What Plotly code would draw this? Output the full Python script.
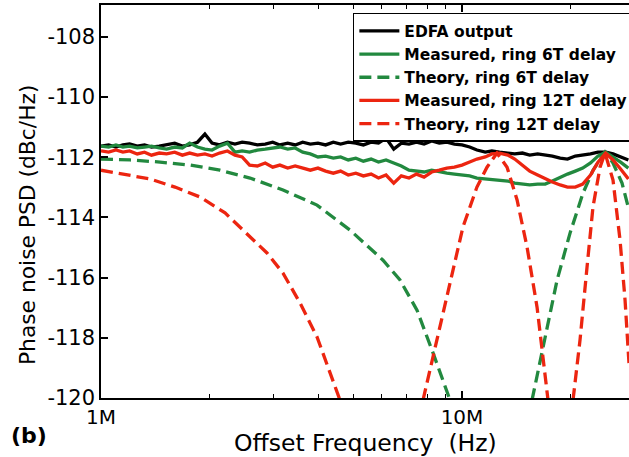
import plotly.graph_objects as go

# ---------------- data (frequencies in MHz, PSD in dBc/Hz) ----------------
freq_meas_mhz = [1.00, 1.05, 1.10, 1.15, 1.20, 1.26, 1.32, 1.38, 1.45, 1.52, 1.60, 1.68, 1.76, 1.85,
                 1.94, 2.03, 2.13, 2.24, 2.35, 2.46, 2.58, 2.71, 2.85, 2.99, 3.13, 3.29, 3.45, 3.62,
                 3.80, 3.99, 4.19, 4.40, 4.61, 4.84, 5.08, 5.33, 5.60, 5.87, 6.16, 6.47, 6.79, 7.13,
                 7.48, 7.85, 8.24, 8.65, 9.08, 9.53, 10.0, 10.5, 11.0, 11.6, 12.1, 12.7, 13.4, 14.0,
                 14.7, 15.4, 16.2, 17.0, 17.8, 18.7, 19.6, 20.6, 21.6, 22.7, 23.8, 25.0, 26.2, 27.5, 28.9]

edfa_output = [-111.63, -111.59, -111.66, -111.59, -111.56, -111.63, -111.59, -111.66, -111.63, -111.59,
               -111.53, -111.63, -111.59, -111.50, -111.23, -111.53, -111.59, -111.50, -111.56, -111.50,
               -111.53, -111.59, -111.56, -111.50, -111.59, -111.53, -111.59, -111.50, -111.56, -111.53,
               -111.59, -111.50, -111.56, -111.50, -111.53, -111.59, -111.50, -111.53, -111.36, -111.73,
               -111.53, -111.56, -111.50, -111.56, -111.46, -111.53, -111.50, -111.56, -111.59, -111.66,
               -111.76, -111.83, -111.79, -111.83, -111.86, -111.89, -111.86, -111.93, -111.89, -111.93,
               -111.96, -112.03, -112.06, -111.96, -111.93, -111.89, -111.83, -111.83, -111.89, -111.99, -112.09]

measured_6t = [-111.63, -111.66, -111.59, -111.66, -111.63, -111.69, -111.66, -111.63, -111.69, -111.73,
               -111.66, -111.69, -111.53, -111.66, -111.73, -111.76, -111.63, -111.53, -111.83, -111.79,
               -111.83, -111.76, -111.73, -111.69, -111.66, -111.73, -111.69, -111.83, -111.89, -111.99,
               -111.96, -112.03, -111.99, -112.09, -112.03, -112.13, -112.06, -112.16, -112.09, -112.19,
               -112.29, -112.43, -112.46, -112.49, -112.43, -112.49, -112.53, -112.56, -112.59, -112.62,
               -112.69, -112.72, -112.72, -112.76, -112.79, -112.86, -112.89, -112.92, -112.89, -112.89,
               -112.79, -112.66, -112.56, -112.46, -112.36, -112.19, -111.96, -111.83, -111.99, -112.16, -112.36]

measured_12t = [-111.79, -111.83, -111.76, -111.83, -111.79, -111.89, -111.83, -111.93, -111.86, -111.89,
                -111.83, -111.93, -111.86, -111.93, -111.89, -111.96, -111.86, -111.79, -111.93, -111.99,
                -112.26, -112.29, -112.19, -112.33, -112.26, -112.36, -112.29, -112.36, -112.43, -112.36,
                -112.46, -112.53, -112.46, -112.59, -112.53, -112.62, -112.56, -112.69, -112.59, -112.86,
                -112.62, -112.69, -112.56, -112.66, -112.49, -112.43, -112.36, -112.33, -112.26, -112.16,
                -112.06, -111.99, -111.89, -111.86, -111.93, -112.06, -112.26, -112.46, -112.59, -112.72,
                -112.82, -112.92, -112.99, -112.99, -112.89, -112.59, -112.16, -111.86, -112.09, -112.39, -112.72]

freq_theory_6t_mhz = [1.000, 1.203, 1.457, 1.764, 2.136, 2.587, 3.193, 3.966, 4.895, 6.042, 6.734, 7.505,
                      8.313, 9.265, None, 15.63, 16.77, 18.34, 19.92, 21.64, 23.06, 24.90, 26.20, 27.75, 29.01]
theory_6t = [-112.06, -112.09, -112.16, -112.26, -112.43, -112.69, -113.09, -113.59, -114.42, -115.42,
             -116.08, -117.08, -118.50, -120.07, None, -120.07, -118.31, -116.08, -114.52, -113.19,
             -112.43, -111.83, -112.19, -112.86, -113.75]

freq_theory_12t_mhz = [1.000, 1.166, 1.367, 1.603, 1.880, 2.206, 2.587, 2.883, 3.193, 3.558, 3.966, 4.309,
                       4.592, None, 7.798, 8.524, 9.265, 10.06, 11.00, 11.73, 12.50, 13.33, 14.21, 15.14,
                       16.14, 16.77, 17.31, None, 20.30, 21.23, 22.20, 23.06, 24.12, 24.90, 26.20, 27.40,
                       28.29, 29.01]
theory_12t = [-112.43, -112.56, -112.72, -112.99, -113.32, -113.85, -114.65, -115.18, -115.85, -116.84,
              -117.97, -119.17, -120.07, None, -120.07, -118.07, -116.08, -114.32, -112.99, -112.33,
              -111.86, -112.33, -113.42, -114.98, -116.98, -118.64, -120.07, None, -120.07, -118.07,
              -115.65, -113.65, -112.33, -111.86, -112.76, -114.75, -116.74, -118.84]

series_names = ["EDFA output", "Measured, ring 6T delay", "Theory, ring 6T delay",
                "Measured, ring 12T delay", "Theory, ring 12T delay"]

y_tick_vals = [-120, -118, -116, -114, -112, -110, -108]
y_tick_text = ["-120", "-118", "-116", "-114", "-112", "-110", "-108"]
x_tick_vals = [1e6, 1e7]
x_tick_text = ["1M", "10M"]
x_minor_vals = [2e6, 3e6, 4e6, 5e6, 6e6, 7e6, 8e6, 9e6, 2e7, 3e7]


def hz(values):
    return [None if v is None else v * 1e6 for v in values]


BLACK = "#000000"
GREEN = "#22893f"
RED = "#ec2510"
FONT = "DejaVu Sans"
LW = 3.3
DASH = "12px,6px"

fig = go.Figure()
fig.add_trace(go.Scatter(x=hz(freq_meas_mhz), y=edfa_output, mode="lines", name=series_names[0],
                         line=dict(color=BLACK, width=LW)))
fig.add_trace(go.Scatter(x=hz(freq_meas_mhz), y=measured_6t, mode="lines", name=series_names[1],
                         line=dict(color=GREEN, width=LW)))
fig.add_trace(go.Scatter(x=hz(freq_theory_6t_mhz), y=theory_6t, mode="lines", name=series_names[2],
                         line=dict(color=GREEN, width=LW, dash=DASH), connectgaps=False))
fig.add_trace(go.Scatter(x=hz(freq_meas_mhz), y=measured_12t, mode="lines", name=series_names[3],
                         line=dict(color=RED, width=LW)))
fig.add_trace(go.Scatter(x=hz(freq_theory_12t_mhz), y=theory_12t, mode="lines", name=series_names[4],
                         line=dict(color=RED, width=LW, dash=DASH), connectgaps=False))

fig.update_layout(
    width=629, height=457,
    margin=dict(l=101, r=0, t=5, b=59, autoexpand=False),
    paper_bgcolor="white", plot_bgcolor="white",
    font=dict(family=FONT, color="black"),
    showlegend=True,
    legend=dict(x=0.477, y=0.98, xanchor="left", yanchor="top",
                bgcolor="white", bordercolor="black", borderwidth=1.5,
                font=dict(family=FONT, size=15.5, color="black", weight="bold"),
                tracegroupgap=0, itemwidth=40),
    xaxis=dict(type="log", range=[6, 7.4626],
               tickvals=x_tick_vals, ticktext=x_tick_text,
               ticks="inside", ticklen=7, tickwidth=1.5, tickcolor="black",
               minor=dict(tickvals=x_minor_vals, ticks="inside", ticklen=4, tickwidth=1.2, tickcolor="black"),
               showline=True, linecolor="black", linewidth=1.5, mirror="ticks",
               showgrid=False, zeroline=False, automargin=False,
               tickfont=dict(family=FONT, size=20, color="black")),
    yaxis=dict(range=[-120, -106.94],
               tickvals=y_tick_vals, ticktext=y_tick_text,
               ticks="inside", ticklen=7, tickwidth=1.5, tickcolor="black",
               showline=True, linecolor="black", linewidth=1.5,
               showgrid=False, zeroline=False, automargin=False,
               tickfont=dict(family=FONT, size=21, color="black")),
    annotations=[
        dict(text="Offset Frequency  (Hz)", xref="paper", yref="paper", x=0.5, y=0,
             xanchor="center", yanchor="middle", yshift=-45, showarrow=False,
             font=dict(family=FONT, size=23.5, color="black")),
        dict(text="Phase noise PSD (dBc/Hz)", xref="paper", yref="paper", x=0, y=0.44,
             xanchor="center", yanchor="middle", xshift=-74, textangle=-90, showarrow=False,
             font=dict(family=FONT, size=21.8, color="black")),
        dict(text="<b>(b)</b>", xref="paper", yref="paper", x=0, y=0,
             xanchor="center", yanchor="middle", xshift=-72, yshift=-37, showarrow=False,
             font=dict(family=FONT, size=22, color="black")),
    ],
)

fig.write_html("out.html")
